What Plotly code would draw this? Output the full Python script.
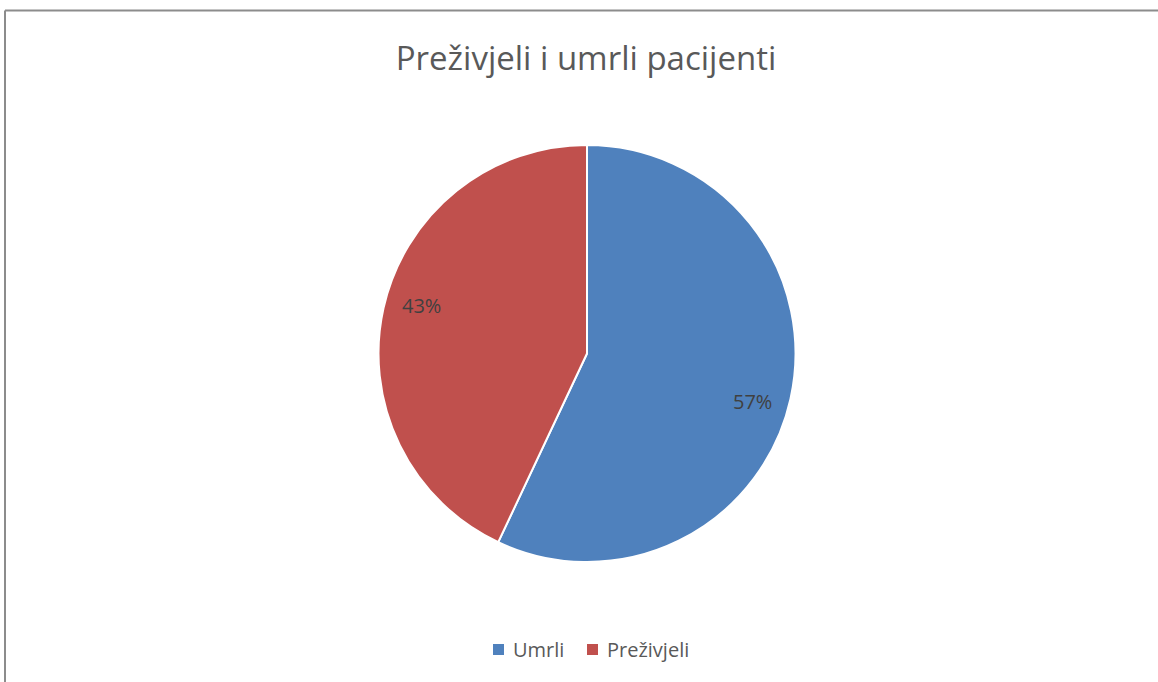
import math
import plotly.graph_objects as go

labels = ["Umrli", "Preživjeli"]
values = [57, 43]
colors = ["#4F81BD", "#C0504D"]
title_text = "Preživjeli i umrli pacijenti"

W, H = 1158, 682
FONT = "Open Sans, Noto Sans, sans-serif"

# pie placement (pixels)
PIE_L, PIE_R, PIE_T, PIE_B = 378, 796, 145, 562
CX, CY = (PIE_L + PIE_R) / 2, (PIE_T + PIE_B) / 2
RAD = (PIE_R - PIE_L) / 2

fig = go.Figure(
    go.Pie(
        labels=labels,
        values=values,
        marker=dict(colors=colors, line=dict(color="white", width=2)),
        sort=False,
        direction="clockwise",
        rotation=0,
        textinfo="none",
        domain=dict(x=[PIE_L / W, PIE_R / W], y=[1 - PIE_B / H, 1 - PIE_T / H]),
        hoverinfo="label+percent",
        showlegend=False,
    )
)

# percentage labels, placed along each slice's mid-angle
annotations = []
total = sum(values)
start = 0.0
for val in values:
    frac = val / total
    mid = (start + frac / 2) * 360 + 3.5
    start += frac
    ang = math.radians(mid)
    px = CX + 0.825 * RAD * math.sin(ang)
    py = CY - 0.825 * RAD * math.cos(ang)
    annotations.append(dict(
        x=px / W, y=1 - py / H, xref="paper", yref="paper",
        text=f"{round(frac * 100)}%", showarrow=False,
        xanchor="center", yanchor="middle",
        font=dict(family=FONT, size=20, color="#404040"),
    ))

# legend: colour squares followed by the category name
shapes = []
legend_sq_x = [493, 587]
legend_y = 649.5
for name, col, sx in zip(labels, colors, legend_sq_x):
    shapes.append(dict(
        type="rect", xref="paper", yref="paper",
        x0=sx / W, x1=(sx + 11) / W,
        y0=1 - (legend_y + 5.5) / H, y1=1 - (legend_y - 5.5) / H,
        fillcolor=col, line=dict(width=0),
    ))
    annotations.append(dict(
        x=(sx + 18) / W, y=1 - legend_y / H, xref="paper", yref="paper",
        text=name, showarrow=False, xanchor="left", yanchor="middle",
        font=dict(family=FONT, size=20, color="#595959"),
    ))

# chart frame (top and left edges)
shapes += [
    dict(type="line", xref="paper", yref="paper",
         x0=5 / W, x1=1.01, y0=1 - 10.5 / H, y1=1 - 10.5 / H,
         line=dict(color="#8C8C8C", width=2)),
    dict(type="line", xref="paper", yref="paper",
         x0=5 / W, x1=5 / W, y0=1 - 10.5 / H, y1=-0.01,
         line=dict(color="#8C8C8C", width=2)),
]

fig.update_layout(
    width=W,
    height=H,
    margin=dict(l=0, r=0, t=0, b=0),
    paper_bgcolor="white",
    plot_bgcolor="white",
    showlegend=False,
    title=dict(
        text=title_text,
        x=586 / W,
        xanchor="center",
        y=1 - 58 / H,
        yanchor="middle",
        font=dict(family=FONT, size=33, color="#595959"),
    ),
    annotations=annotations,
    shapes=shapes,
)

fig.write_html("out.html")
